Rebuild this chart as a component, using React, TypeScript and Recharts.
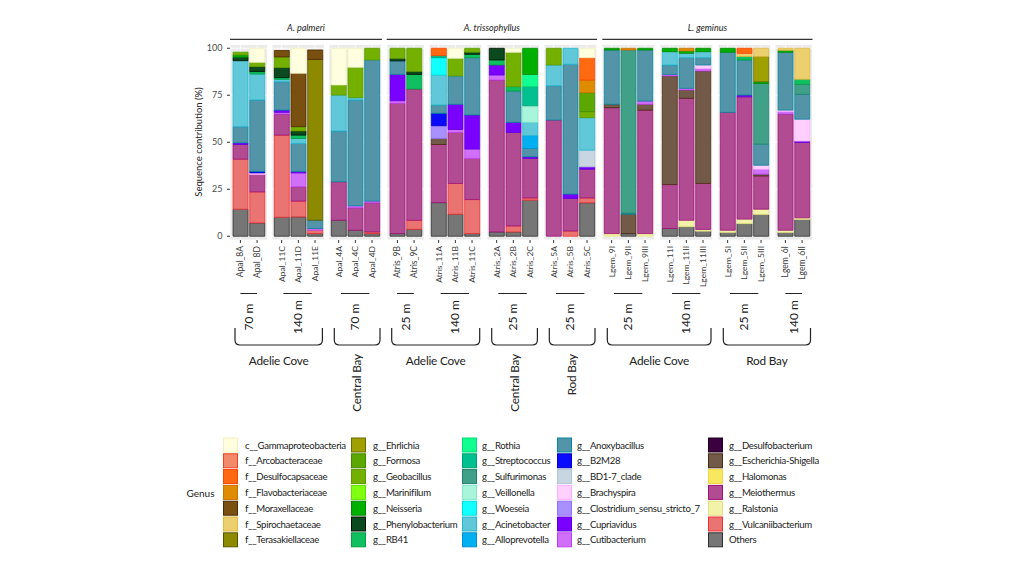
import React from 'react';
import { BarChart, Bar, XAxis, YAxis, CartesianGrid } from 'recharts';

type Seg = [string, number];
interface Sample { sample: string; segs: Seg[] }

// legend order (column by column)
const genusKeys = [
  'GAM', 'ARC', 'DSC', 'FLA', 'MOR', 'SPI', 'TER',
  'EHR', 'FOR', 'GEO', 'MAR', 'NEI', 'PHE', 'RB4',
  'ROT', 'STR', 'SUL', 'VEI', 'WOE', 'ACI', 'ALL',
  'ANO', 'B2M', 'BD1', 'BRA', 'CLO', 'CUP', 'CUT',
  'DSB', 'ESC', 'HAL', 'MEI', 'RAL', 'VUL', 'OTH',
];
const genusLabels = [
  'c__Gammaproteobacteria', 'f__Arcobacteraceae', 'f__Desulfocapsaceae', 'f__Flavobacteriaceae', 'f__Moraxellaceae', 'f__Spirochaetaceae', 'f__Terasakiellaceae',
  'g__Ehrlichia', 'g__Formosa', 'g__Geobacillus', 'g__Marinifilum', 'g__Neisseria', 'g__Phenylobacterium', 'g__RB41',
  'g__Rothia', 'g__Streptococcus', 'g__Sulfurimonas', 'g__Veillonella', 'g__Woeseia', 'g__Acinetobacter', 'g__Alloprevotella',
  'g__Anoxybacillus', 'g__B2M28', 'g__BD1-7_clade', 'g__Brachyspira', 'g__Clostridium_sensu_stricto_7', 'g__Cupriavidus', 'g__Cutibacterium',
  'g__Desulfobacterium', 'g__Escherichia-Shigella', 'g__Halomonas', 'g__Meiothermus', 'g__Ralstonia', 'g__Vulcaniibacterium', 'Others',
];
const genusFill = [
  '#FFFFE0', '#F08A6A', '#FF6A10', '#E08C00', '#7A5010', '#ECD070', '#8E8A00',
  '#A0A000', '#5CA800', '#74B000', '#80FF10', '#00B000', '#0A4A1E', '#10C060',
  '#10FF90', '#00C090', '#40A088', '#A8F5DC', '#10FFFF', '#60C8D8', '#00B0F0',
  '#5494A8', '#0A0AFF', '#C8D6E2', '#FFD0FF', '#A890FF', '#7A00FF', '#D070F8',
  '#3A0040', '#735A48', '#F8E860', '#B24C92', '#F2F2A8', '#EA7472', '#767676',
];
const genusLine = [
  '#F0F0C0', '#F04020', '#FF4000', '#C87000', '#4A2A00', '#E0B840', '#5A5400',
  '#6A6A00', '#408800', '#5A9A00', '#60E000', '#008800', '#001000', '#00A040',
  '#00E070', '#00A070', '#208070', '#80E8C8', '#00E0E0', '#20B8D0', '#0090D0',
  '#0088A0', '#0000C0', '#B0C4D4', '#FFB0FF', '#9070FF', '#6000E0', '#C040F0',
  '#200020', '#4A2A10', '#F0D840', '#A0107A', '#E0E080', '#F03030', '#303030',
];

// samples per facet, segments listed bottom to top (%)
const apal70Adelie: Sample[] = [
  { sample: 'Apal_8A', segs: [['OTH', 14.4], ['VUL', 26.6], ['MEI', 7.8], ['CUP', 0.9], ['ANO', 8.6], ['ACI', 35.1], ['PHE', 1.8], ['NEI', 1.2], ['GEO', 1.5]] },
  { sample: 'Apal_8D', segs: [['OTH', 7.1], ['VUL', 16.5], ['MEI', 9.3], ['BRA', 0.8], ['B2M', 0.8], ['ANO', 38], ['ACI', 13.8], ['RB4', 1.3], ['PHE', 2.6], ['GEO', 2.3], ['GAM', 7.5]] },
];
const apal140Adelie: Sample[] = [
  { sample: 'Apal_11C', segs: [['OTH', 10.1], ['VUL', 43.7], ['MEI', 11.2], ['CUT', 0.9], ['CUP', 1.2], ['ANO', 15.1], ['ACI', 1.3], ['RB4', 0.9], ['PHE', 5.3], ['GEO', 5.7], ['MOR', 3.4]] },
  { sample: 'Apal_11D', segs: [['OTH', 10.3], ['VUL', 8.4], ['MEI', 7.6], ['CUT', 7.4], ['CUP', 0.8], ['ANO', 14.9], ['ACI', 2.6], ['RB4', 1.8], ['PHE', 2.2], ['GEO', 2.3], ['MOR', 28.4], ['GAM', 13.3]] },
  { sample: 'Apal_11E', segs: [['OTH', 1.4], ['VUL', 1.8], ['CUT', 0.9], ['ANO', 4.4], ['TER', 85.6], ['MOR', 5.0]] },
];
const apal70Central: Sample[] = [
  { sample: 'Apal_4A', segs: [['OTH', 8.5], ['MEI', 20.5], ['ANO', 27], ['ACI', 19.1], ['GEO', 5.4], ['GAM', 19.5]] },
  { sample: 'Apal_4C', segs: [['OTH', 3.2], ['MEI', 11.9], ['CUT', 1.1], ['ANO', 56.3], ['ACI', 1.2], ['GEO', 16.2], ['GAM', 10.1]] },
  { sample: 'Apal_4D', segs: [['OTH', 1.4], ['VUL', 0.9], ['MEI', 15.5], ['CUT', 0.9], ['ANO', 75.1], ['GEO', 6.2]] },
];
const atris25Adelie: Sample[] = [
  { sample: 'Atris_9B', segs: [['OTH', 1.4], ['MEI', 69.3], ['CUT', 1.4], ['CUP', 14], ['ANO', 7.2], ['PHE', 1.2], ['GEO', 5.5]] },
  { sample: 'Atris_9C', segs: [['OTH', 3.7], ['VUL', 4.8], ['MEI', 69.8], ['RB4', 7.8], ['PHE', 1.5], ['GEO', 12.4]] },
];
const atris140Adelie: Sample[] = [
  { sample: 'Atris_11A', segs: [['OTH', 17.9], ['MEI', 30.9], ['ESC', 3.2], ['CLO', 6.8], ['B2M', 6.6], ['ANO', 4.4], ['ACI', 16], ['WOE', 9.2], ['STR', 1.1], ['DSC', 3.9]] },
  { sample: 'Atris_11B', segs: [['OTH', 11.7], ['VUL', 16.4], ['MEI', 27.1], ['CUT', 1.6], ['CUP', 13.4], ['ANO', 15.1], ['GEO', 9.4], ['GAM', 5.3]] },
  { sample: 'Atris_11C', segs: [['OTH', 1.4], ['VUL', 18.1], ['MEI', 21.9], ['CUT', 5], ['CUP', 18.1], ['ANO', 30.5], ['RB4', 1.8], ['PHE', 1.1], ['GEO', 2.1]] },
];
const atris25Central: Sample[] = [
  { sample: 'Atris_2A', segs: [['OTH', 2.3], ['MEI', 80.8], ['CUT', 2.7], ['CUP', 5.3], ['RB4', 2.7], ['PHE', 6.2]] },
  { sample: 'Atris_2B', segs: [['OTH', 2.3], ['VUL', 3.2], ['MEI', 49.7], ['CUP', 5.4], ['ANO', 16.7], ['RB4', 2.3], ['GEO', 18.3], ['GAM', 2.1]] },
  { sample: 'Atris_2C', segs: [['OTH', 19.2], ['VUL', 1.2], ['MEI', 21], ['CUP', 0.9], ['ANO', 4.4], ['ALL', 6.8], ['ACI', 7.1], ['VEI', 8.8], ['STR', 10.2], ['ROT', 6.5], ['NEI', 13.9]] },
];
const atris25Rod: Sample[] = [
  { sample: 'Atris_5A', segs: [['MEI', 61.8], ['ANO', 18.3], ['ACI', 11], ['GEO', 8.9]] },
  { sample: 'Atris_5B', segs: [['VUL', 2.8], ['MEI', 17.3], ['CUP', 2.3], ['ANO', 69.1], ['ACI', 8.5]] },
  { sample: 'Atris_5C', segs: [['OTH', 17.8], ['VUL', 2.6], ['MEI', 15.3], ['CUP', 1.2], ['BD1', 8.9], ['ACI', 17.3], ['GEO', 3.2], ['FOR', 10.1], ['FLA', 6.7], ['DSC', 11.9], ['GAM', 5]] },
];
const lgem25Adelie: Sample[] = [
  { sample: 'Lgem_9I', segs: [['RAL', 1.4], ['MEI', 67], ['ESC', 1.8], ['ANO', 28.9], ['NEI', 0.9]] },
  { sample: 'Lgem_9II', segs: [['OTH', 1.4], ['ESC', 10.3], ['ANO', 0.6], ['SUL', 86.8], ['FLA', 0.9]] },
  { sample: 'Lgem_9III', segs: [['RAL', 1.4], ['MEI', 65.7], ['ESC', 3.1], ['CUT', 1.7], ['ANO', 27.2], ['NEI', 0.9]] },
];
const lgem140Adelie: Sample[] = [
  { sample: 'Lgem_11I', segs: [['OTH', 4.1], ['MEI', 23.4], ['ESC', 57.8], ['CUT', 0.8], ['ANO', 5], ['ACI', 7.1], ['NEI', 1.8]] },
  { sample: 'Lgem_11II', segs: [['OTH', 5], ['RAL', 3.5], ['MEI', 64.9], ['ESC', 4.4], ['CUT', 0.9], ['ANO', 16.3], ['ACI', 2.3], ['NEI', 1.3], ['FLA', 1.4]] },
  { sample: 'Lgem_11III', segs: [['OTH', 2.7], ['RAL', 0.9], ['MEI', 24.5], ['ESC', 59.8], ['CUT', 1.4], ['BRA', 1.8], ['ANO', 3.9], ['ACI', 3.2], ['NEI', 1.8]] },
];
const lgem25Rod: Sample[] = [
  { sample: 'Lgem_5I', segs: [['OTH', 2], ['RAL', 1.2], ['MEI', 62.7], ['ANO', 32], ['NEI', 2.1]] },
  { sample: 'Lgem_5II', segs: [['OTH', 6.7], ['RAL', 2.4], ['MEI', 65.1], ['CUP', 0.9], ['ANO', 18.7], ['RB4', 1.8], ['SPI', 1.7], ['DSC', 2.7]] },
  { sample: 'Lgem_5III', segs: [['OTH', 11.5], ['RAL', 2.9], ['MEI', 17.7], ['ESC', 0.9], ['CUT', 2.7], ['BRA', 2.1], ['ANO', 11.2], ['SUL', 32.3], ['NEI', 0.9], ['EHR', 13.4], ['SPI', 4.4]] },
];
const lgem140Rod: Sample[] = [
  { sample: 'Lgem_6I', segs: [['OTH', 2], ['RAL', 1.2], ['MEI', 61.8], ['CUT', 1.3], ['BRA', 0.8], ['ANO', 30.8], ['NEI', 1], ['SPI', 1.1]] },
  { sample: 'Lgem_6II', segs: [['OTH', 8.9], ['RAL', 0.9], ['MEI', 40.1], ['CUP', 0.7], ['BRA', 11.7], ['ANO', 13.2], ['SUL', 5.3], ['RB4', 2.7], ['SPI', 16.5]] },
];

const facets = [
  { depth: '70 m', samples: apal70Adelie },
  { depth: '140 m', samples: apal140Adelie },
  { depth: '70 m', samples: apal70Central },
  { depth: '25 m', samples: atris25Adelie },
  { depth: '140 m', samples: atris140Adelie },
  { depth: '25 m', samples: atris25Central },
  { depth: '25 m', samples: atris25Rod },
  { depth: '25 m', samples: lgem25Adelie },
  { depth: '140 m', samples: lgem140Adelie },
  { depth: '25 m', samples: lgem25Rod },
  { depth: '140 m', samples: lgem140Rod },
];
const species = [
  { name: 'A. palmeri', from: 0, to: 2 },
  { name: 'A. trissophyllus', from: 3, to: 6 },
  { name: 'L. geminus', from: 7, to: 10 },
];
const locations = [
  { name: 'Adelie Cove', from: 0, to: 1, vertical: false },
  { name: 'Central Bay', from: 2, to: 2, vertical: true },
  { name: 'Adelie Cove', from: 3, to: 4, vertical: false },
  { name: 'Central Bay', from: 5, to: 5, vertical: true },
  { name: 'Rod Bay', from: 6, to: 6, vertical: true },
  { name: 'Adelie Cove', from: 7, to: 8, vertical: false },
  { name: 'Rod Bay', from: 9, to: 10, vertical: false },
];
const yTicks = [0, 25, 50, 75, 100];

// layout
const PANEL_LEFT = [230, 271.7, 329.3, 386.7, 429, 486.7, 544.3, 602.3, 660.3, 718.3, 775];
const PITCH = 16.7;
const BAR_W = 15;
const panelWidth = (n: number) => (n === 2 ? 37.5 : 52.7);
const CHART_H = 290;
const PLOT_TOP = 44.5;
const XAXIS_H = 40;
const Y_AXIS_W = 40;
const stackOrder = [...genusKeys].reverse();
const TEXT = '#222222';

const SampleTick = (props: any) => {
  const { x, y, payload } = props;
  return (
    <text transform={`translate(${x},${y + 1}) rotate(-90)`} textAnchor="end" dy="0.35em"
      fontSize={8.5} fill="#3a3a3a">{payload.value}</text>
  );
};

const Panel = ({ index }: { index: number }) => {
  const facet = facets[index];
  const n = facet.samples.length;
  const w = panelWidth(n);
  const padX = (w - n * PITCH) / 2;
  const showY = index === 0;
  const yw = showY ? Y_AXIS_W : 0;
  const rows = facet.samples.map((s) => {
    const r: Record<string, any> = { sample: s.sample };
    genusKeys.forEach((k) => { r[k] = 0; });
    s.segs.forEach(([k, v]) => { r[k] = v; });
    return r;
  });
  return (
    <div style={{ position: 'absolute', left: PANEL_LEFT[index] - yw, top: 0 }}>
      <BarChart width={w + yw} height={CHART_H} data={rows} barSize={BAR_W}
        margin={{ top: PLOT_TOP, right: 0, left: 0, bottom: CHART_H - 240 - XAXIS_H }}>
        <CartesianGrid fill="#EBEBEB" stroke="#FFFFFF" strokeWidth={0.8} />
        <XAxis dataKey="sample" type="category" height={XAXIS_H} interval={0}
          padding={{ left: padX, right: padX }} axisLine={false}
          tickLine={{ stroke: '#333' }} tickSize={3} tick={(p: any) => <SampleTick {...p} />} />
        <YAxis hide={!showY} width={yw} type="number" domain={[-2, 102]} allowDataOverflow
          ticks={yTicks} axisLine={false} tickLine={{ stroke: '#333' }} tickSize={3} tickMargin={4.5}
          tick={{ fontSize: 9, fill: '#4D4D4D' }} />
        {stackOrder.map((k) => {
          const gi = genusKeys.indexOf(k);
          return (
            <Bar key={k} dataKey={k} stackId="s" fill={genusFill[gi]} stroke={genusLine[gi]}
              strokeWidth={0.8} isAnimationActive={false} />
          );
        })}
      </BarChart>
    </div>
  );
};

const barCenter = (fi: number, bi: number) => {
  const n = facets[fi].samples.length;
  const padX = (panelWidth(n) - n * PITCH) / 2;
  return PANEL_LEFT[fi] + padX + PITCH * (bi + 0.5);
};
const panelRight = (fi: number) => PANEL_LEFT[fi] + panelWidth(facets[fi].samples.length);

const Annotations = () => {
  const legendSwatchX = [223, 351, 462, 557, 708];
  const legendTextX = [245, 373, 482, 577, 729];
  return (
    <svg width={1024} height={575} style={{ position: 'absolute', left: 0, top: 0, pointerEvents: 'none' }}>
      {/* species strips */}
      {species.map((s) => {
        const x1 = PANEL_LEFT[s.from];
        const x2 = panelRight(s.to);
        return (
          <g key={s.name}>
            <text x={(x1 + x2) / 2} y={31} textAnchor="middle" fontSize={9} fontStyle="italic" fill={TEXT}>{s.name}</text>
            <line x1={x1} x2={x2} y1={39.3} y2={39.3} stroke="#333" strokeWidth={1.2} />
          </g>
        );
      })}
      <text transform="translate(199,142) rotate(-90)" textAnchor="middle" dy="0.35em" fontSize={9.5} fill={TEXT}>
        Sequence contribution (%)
      </text>
      {/* depth */}
      {facets.map((f, fi) => {
        const n = f.samples.length;
        const a = barCenter(fi, 0) + (n === 3 ? 2 : 0);
        const b = barCenter(fi, n - 1) - (n === 3 ? 3 : 0);
        const mid = (a + b) / 2;
        return (
          <g key={fi}>
            <line x1={a} x2={b} y1={293.5} y2={293.5} stroke={TEXT} strokeWidth={1} />
            <text transform={`translate(${mid},317) rotate(-90)`} textAnchor="middle" dy="0.35em" fontSize={12} fill={TEXT}>{f.depth}</text>
          </g>
        );
      })}
      {/* locations */}
      {locations.map((l, i) => {
        const x1 = PANEL_LEFT[l.from] + 5;
        const x2 = panelRight(l.to) - 2;
        const mid = (x1 + x2) / 2;
        const d = `M${x1},328 L${x1},340 Q${x1},345 ${x1 + 5},345 L${x2 - 5},345 Q${x2},345 ${x2},340 L${x2},328`;
        return (
          <g key={i}>
            <path d={d} fill="none" stroke={TEXT} strokeWidth={1.2} />
            {l.vertical ? (
              <text transform={`translate(${mid},354) rotate(-90)`} textAnchor="end" dy="0.35em" fontSize={11.8} letterSpacing={-0.2} fill={TEXT}>{l.name}</text>
            ) : (
              <text x={mid} y={364.5} textAnchor="middle" fontSize={11.8} letterSpacing={-0.2} fill={TEXT}>{l.name}</text>
            )}
          </g>
        );
      })}
      {/* legend */}
      <text x={186.5} y={497} fontSize={10} fill={TEXT}>Genus</text>
      {genusKeys.map((k, i) => {
        const col = Math.floor(i / 7);
        const row = i % 7;
        const top = 437.5 + row * 15.8;
        return (
          <g key={k}>
            <rect x={legendSwatchX[col] + 0.5} y={top + 0.5} width={14} height={14} fill={genusFill[i]} stroke={genusLine[i]} strokeWidth={1} />
            <text x={legendTextX[col]} y={top + 11} fontSize={9.6} letterSpacing={-0.3} fill={TEXT}>{genusLabels[i]}</text>
          </g>
        );
      })}
    </svg>
  );
}

export default function App() {
  return (
    <div style={{ position: 'absolute', left: 0, top: 0, width: 1024, height: 575, background: '#fff', fontFamily: 'Lato, "Open Sans", sans-serif' }}>
      {facets.map((_, i) => <Panel key={i} index={i} />)}
      <Annotations />
    </div>
  );
}
